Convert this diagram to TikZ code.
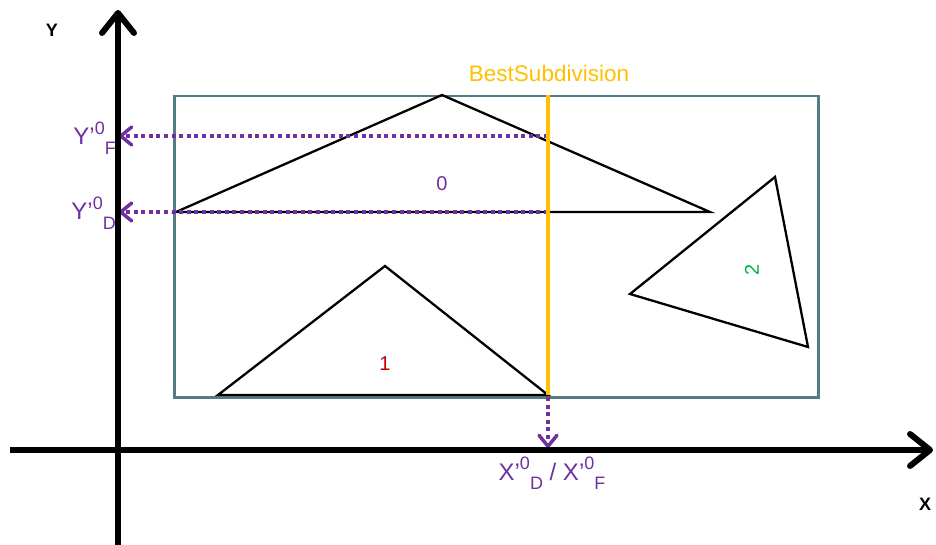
\documentclass[tikz,border=0pt]{standalone}
\usepackage{fontspec}
\setmainfont{Liberation Sans}
\usetikzlibrary{arrows.meta}
\definecolor{rectcol}{RGB}{84,124,134}
\definecolor{bestcol}{RGB}{255,192,0}
\definecolor{purp}{RGB}{112,48,160}
\definecolor{redc}{RGB}{192,0,0}
\definecolor{greenc}{RGB}{0,176,80}
\newcommand{\supsub}[3]{#1\raisebox{0.42em}{\fontsize{18}{18}\selectfont #2}\raisebox{-0.38em}{\fontsize{18}{18}\selectfont #3}}
\tikzset{
  axisline/.style={line width=6pt,-{Straight Barb[length=20pt,width=32pt,line cap=round,line join=round]}},
  tri/.style={line width=2.3pt,line join=miter},
  proj/.style={purp,line width=3.5pt,dash pattern=on 4pt off 3.6pt,-{Straight Barb[length=11pt,width=18pt,line cap=round,line join=round]}},
  plabel/.style={purp,inner sep=0pt,font=\fontsize{24}{24}\selectfont},
  num/.style={inner sep=0pt,font=\fontsize{20}{20}\selectfont},
  axlabel/.style={inner sep=0pt,font=\fontsize{18}{18}\selectfont\bfseries}
}
\begin{document}
\begin{tikzpicture}[x=1pt,y=-1pt]
\useasboundingbox (0,0) rectangle (936,545);
% bounding rectangle
\node[draw=rectcol,line width=2.5pt,minimum width=644pt,minimum height=301pt,inner sep=0pt,anchor=north west] (box) at (173,95) {};
% triangles
\coordinate (a0) at (176,212); \coordinate (b0) at (442,95); \coordinate (c0) at (710,212);
\coordinate (a1) at (218,395); \coordinate (b1) at (385,266); \coordinate (c1) at (548,395);
\coordinate (a2) at (630,294); \coordinate (b2) at (775,177); \coordinate (c2) at (808,347);
\draw[tri] (a0) -- (b0) -- (c0) -- cycle;
\draw[tri] (a1) -- (b1) -- (c1) -- cycle;
\draw[tri] (a2) -- (b2) -- (c2) -- cycle;
\node[num,purp] (n0) at (442,184) {0};
\node[num,redc] (n1) at (385,364) {1};
\node[num,greenc,rotate=90] (n2) at (752,270) {2};
% axes points
\coordinate (yF) at (119,136);
\coordinate (yD) at (119,212);
\coordinate (xDF) at (548,448);
\coordinate (sF) at (548,136);
\coordinate (sD) at (548,212);
\coordinate (sB) at (548,397);
% projections
\draw[proj] (sF) -- (yF);
\draw[proj] (sD) -- (yD);
\draw[proj] (sB) -- (xDF);
% best subdivision
\coordinate (bt) at (548,95);
\coordinate (bb) at (548,395);
\draw[bestcol,line width=3.5pt] (bt) -- (bb);
\node[bestcol,inner sep=0pt,font=\fontsize{22.5}{22.5}\selectfont,anchor=base] (best) at (549,82) {BestSubdivision};
% axes
\coordinate (yo) at (118,545);
\coordinate (yt) at (118,10);
\coordinate (xo) at (10,450);
\coordinate (xt) at (933,450);
\draw[axisline] (yo) -- (yt);
\draw[axisline] (xo) -- (xt);
\node[axlabel] (ylab) at (52,30) {Y};
\node[axlabel] (xlab) at (925,504) {X};
% purple labels
\node[plabel,anchor=base east] (lF) at (116,145) {\supsub{Y’}{0}{F}};
\node[plabel,anchor=base east] (lD) at (116,220) {\supsub{Y’}{0}{D}};
\node[plabel,anchor=base] (lX) at (552,480) {\supsub{X’}{0}{D} / \supsub{X’}{0}{F}};
\end{tikzpicture}
\end{document}
